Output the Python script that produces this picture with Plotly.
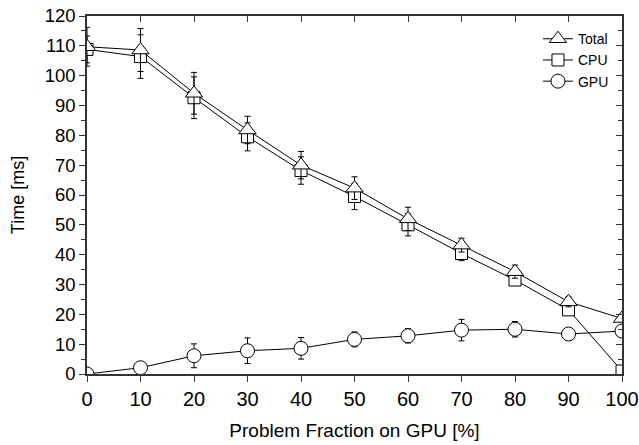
import plotly.graph_objects as go

x = [0, 10, 20, 30, 40, 50, 60, 70, 80, 90, 100]
total = [109.7, 108.6, 94.1, 81.8, 70.0, 62.3, 52.0, 43.2, 34.3, 24.2, 18.6]
total_err = [6.5, 7.2, 7.0, 4.6, 4.6, 3.8, 3.9, 2.3, 2.2, 1.7, 1.0]
cpu = [108.8, 106.4, 92.6, 79.5, 68.2, 59.5, 50.0, 40.4, 31.5, 21.5, 1.0]
cpu_err = [4.5, 7.3, 7.0, 4.7, 4.6, 4.4, 3.7, 2.4, 1.5, 1.7, 0.5]
gpu = [0.0, 2.1, 6.1, 7.8, 8.6, 11.6, 12.8, 14.7, 15.0, 13.4, 14.4]
gpu_err = [0.3, 1.0, 4.0, 4.3, 3.6, 2.5, 2.4, 3.6, 2.6, 1.5, 1.0]

xticks = [0, 10, 20, 30, 40, 50, 60, 70, 80, 90, 100]
yticks = [0, 10, 20, 30, 40, 50, 60, 70, 80, 90, 100, 110, 120]

FONT = "Liberation Sans, Arial, sans-serif"

fig = go.Figure()

def add(name, yv, err, symbol, size, rank):
    fig.add_trace(go.Scatter(
        x=x, y=yv, name=name, mode="lines+markers", legendrank=rank,
        line=dict(color="black", width=1),
        marker=dict(symbol=symbol, size=size, color="white",
                    line=dict(color="black", width=1)),
        error_y=dict(type="data", array=err, visible=True,
                     color="black", thickness=1, width=3),
    ))

add("GPU", gpu, gpu_err, "circle", 14, 3)
add("CPU", cpu, cpu_err, "square", 12, 2)
add("Total", total, total_err, "triangle-up", 15, 1)

# invisible trace to hold mirror axes
fig.add_trace(go.Scatter(x=[0], y=[0], xaxis="x2", yaxis="y2",
                         mode="markers", marker=dict(opacity=0),
                         showlegend=False, hoverinfo="skip"))

axis_common = dict(showgrid=False, zeroline=False, showline=True,
                   linecolor="#333", linewidth=1.5, tickcolor="#333",
                   tickwidth=1.2, ticklen=6, automargin=False)

fig.update_layout(
    width=639, height=445,
    margin=dict(l=87, r=17, t=16, b=71),
    paper_bgcolor="white", plot_bgcolor="white",
    font=dict(family=FONT, size=18, color="black"),
    showlegend=True,
    legend=dict(x=0.985, y=0.98, xanchor="right", yanchor="top",
                bgcolor="rgba(0,0,0,0)", font=dict(size=14, family=FONT),
                traceorder="normal", tracegroupgap=0),
    xaxis=dict(range=[0, 100], tickvals=xticks, ticks="outside",
               tickfont=dict(size=20),
               title=dict(text="Problem Fraction on GPU [%]",
                          font=dict(size=19)),
               **axis_common),
    yaxis=dict(range=[0, 120], tickvals=yticks, ticks="outside",
               tickfont=dict(size=18.5),
               title=dict(text="Time [ms]", font=dict(size=18)),
               minor=dict(dtick=5, ticks="outside", ticklen=4, tickcolor="#333"),
               **axis_common),
    xaxis2=dict(range=[0, 100], overlaying="x", side="top", tickvals=xticks,
                ticks="inside", showticklabels=False, **axis_common),
    yaxis2=dict(range=[0, 120], overlaying="y", side="right", tickvals=yticks,
                ticks="inside", showticklabels=False,
                minor=dict(dtick=5, ticks="inside", ticklen=4, tickcolor="#333"),
                **axis_common),
)

fig.write_html("out.html")
